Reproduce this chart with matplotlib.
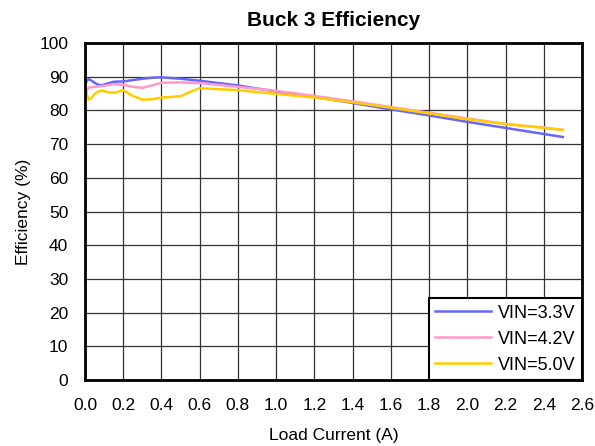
import matplotlib
matplotlib.use("Agg")
import matplotlib.pyplot as plt

plt.rcParams['font.family'] = ['Liberation Sans', 'DejaVu Sans']

x_33 = [0.0, 0.01, 0.02, 0.035, 0.05, 0.07, 0.09, 0.12, 0.15, 0.2, 0.25, 0.3, 0.35, 0.4, 0.5, 0.6, 0.8, 1.0, 1.2, 1.4, 1.6, 1.8, 2.0, 2.2, 2.4, 2.5]
eff_33 = [87.5, 88.8, 89.3, 88.8, 88.2, 87.6, 87.5, 88.0, 88.5, 88.6, 89.0, 89.4, 89.7, 89.8, 89.4, 88.8, 87.4, 85.6, 84.0, 82.2, 80.3, 78.5, 76.6, 74.8, 73.0, 72.1]

x_42 = [0.0, 0.01, 0.02, 0.05, 0.1, 0.15, 0.2, 0.25, 0.3, 0.35, 0.4, 0.5, 0.6, 0.8, 1.0, 1.2, 1.4, 1.6, 1.8, 2.0, 2.2, 2.4, 2.5]
eff_42 = [84.5, 86.0, 86.8, 87.0, 87.3, 87.8, 87.6, 87.0, 86.7, 87.4, 88.2, 88.3, 88.1, 87.0, 85.8, 84.3, 82.7, 81.0, 79.3, 77.6, 76.0, 74.9, 74.2]

x_50 = [0.0, 0.01, 0.02, 0.035, 0.05, 0.07, 0.09, 0.12, 0.15, 0.2, 0.25, 0.3, 0.35, 0.4, 0.5, 0.55, 0.6, 0.8, 1.0, 1.2, 1.4, 1.6, 1.8, 2.0, 2.2, 2.4, 2.5]
eff_50 = [87.3, 84.5, 83.2, 83.8, 84.8, 85.6, 85.9, 85.4, 85.2, 86.0, 84.3, 83.2, 83.3, 83.8, 84.2, 85.5, 86.6, 86.0, 84.9, 83.8, 82.4, 80.8, 79.1, 77.4, 75.9, 74.8, 74.2]

series = [("VIN=3.3V", x_33, eff_33, "#6666FF"),
          ("VIN=4.2V", x_42, eff_42, "#FF99CC"),
          ("VIN=5.0V", x_50, eff_50, "#FFCC00")]

fig = plt.figure(figsize=(5.95, 4.46), dpi=100)
ax = fig.add_axes([85/595, 1-380/446, (582-85)/595, (380-43)/446])

for label, xs, ys, c in series:
    ax.plot(xs, ys, color=c, lw=1.8, label=label, solid_joinstyle="round")

ax.set_xlim(0, 2.6)
ax.set_ylim(0, 100)
ax.set_xticks([i*0.2 for i in range(14)])
ax.set_xticklabels([f"{i*0.2:.1f}" for i in range(14)])
ax.set_yticks(range(0, 101, 10))
ax.grid(True, color="#333333", lw=0.9)
ax.tick_params(axis="x", length=0, labelsize=12.5, pad=13)
ax.tick_params(axis="y", length=0, labelsize=12.5, pad=12)
for s in ax.spines.values():
    s.set_linewidth(2)
    s.set_color("black")

ax.set_title("Buck 3 Efficiency", fontsize=15, fontweight="bold", pad=12)
ax.set_xlabel("Load Current (A)", fontsize=12.5, labelpad=11)
ax.set_ylabel("Efficiency (%)", fontsize=12.5, labelpad=6)

leg = ax.legend(loc="lower right", fontsize=13, fancybox=False, framealpha=1,
                edgecolor="black", borderaxespad=0.0, handlelength=3.1,
                handletextpad=0.4, labelspacing=0.5, borderpad=0.35)
leg.get_frame().set_linewidth(1.5)

fig.savefig("out.png", dpi=100)
